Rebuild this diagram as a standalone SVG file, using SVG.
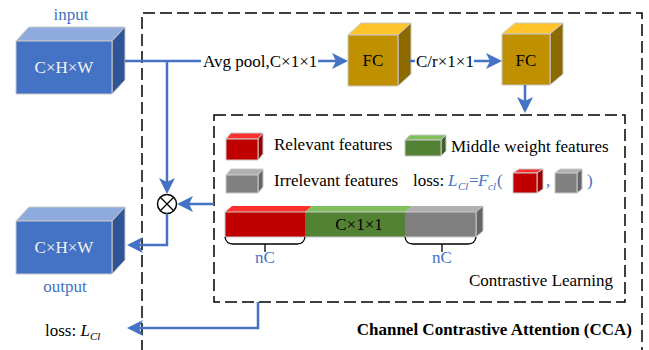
<svg xmlns="http://www.w3.org/2000/svg" width="649" height="350" viewBox="0 0 649 350">
<style>
text{font-family:"Liberation Serif","Times New Roman",serif;font-size:17px;fill:#000}
.w{fill:#F2F2F2}
.b{fill:#4472C4}
.it{font-style:italic}
.bold{font-weight:bold}
.dash{fill:none;stroke:#000;stroke-width:1.5;stroke-dasharray:12 5}
.con{fill:none;stroke:#4472C4;stroke-width:2.5}
.arr{marker-end:url(#ah)}
.edge{stroke:#C8C8C8;stroke-width:1;stroke-linejoin:round}
.bf{fill:#4472C4}.bt{fill:#8FAADC}.bs{fill:#2F5597}
.yf{fill:#BF9000}.yt{fill:#FFC52A}.ys{fill:#8C6A00}
.rf{fill:#C00000}.rt{fill:#FF3030}.rs{fill:#9A0000}
.gf{fill:#548235}.gt{fill:#82C05E}.gs{fill:#3E6127}
.kf{fill:#808080}.kt{fill:#B0B0B0}.ks{fill:#666666}
.brace{fill:none;stroke:#000;stroke-width:1.3}
</style>
<defs>
<marker id="ah" markerUnits="userSpaceOnUse" markerWidth="18" markerHeight="18" refX="13" refY="8" orient="auto" viewBox="0 0 18 18">
<path d="M0,0 L16,8 L0,16 L4,8 z" fill="#4472C4"/>
</marker>
</defs>

<!-- frames -->
<g id="outer-frame">
<path class="dash" d="M142,352 V13 H642 V352"/>
<text x="632" y="335" text-anchor="end" class="bold">Channel Contrastive Attention (CCA)</text>
</g>
<g id="inner-frame">
<rect class="dash" x="214" y="115" width="411" height="187"/>
<text x="613" y="286" text-anchor="end">Contrastive Learning</text>
</g>

<!-- input -->
<g id="input">
<polygon class="bt edge" points="16,41 29,27 125,27 112,41"/>
<polygon class="bs edge" points="112,41 125,27 125,80 112,94"/>
<rect class="bf edge" x="16" y="41" width="96" height="53"/>
<text x="64" y="73" text-anchor="middle" class="w">C×H×W</text>
<text x="71" y="20" text-anchor="middle" class="b">input</text>
</g>

<!-- output -->
<g id="output">
<polygon class="bt edge" points="16,221 29,207 125,207 112,221"/>
<polygon class="bs edge" points="112,221 125,207 125,260 112,274"/>
<rect class="bf edge" x="16" y="221" width="96" height="53"/>
<text x="64" y="253" text-anchor="middle" class="w">C×H×W</text>
<text x="65" y="292" text-anchor="middle" class="b">output</text>
</g>

<!-- FC1 -->
<g id="fc1">
<polygon class="yt edge" points="348,35 361,23 411,23 398,35"/>
<polygon class="ys edge" points="398,35 411,23 411,74 398,86"/>
<rect class="yf edge" x="348" y="35" width="50" height="51"/>
<text x="373" y="66" text-anchor="middle">FC</text>
</g>

<!-- FC2 -->
<g id="fc2">
<polygon class="yt edge" points="502,34 515,23 563,23 550,34"/>
<polygon class="ys edge" points="550,34 563,23 563,74 550,85"/>
<rect class="yf edge" x="502" y="34" width="48" height="51"/>
<text x="526" y="66" text-anchor="middle">FC</text>
</g>

<!-- multiply -->
<g id="multiply">
<circle cx="167" cy="204" r="9.5" fill="#fff" stroke="#000" stroke-width="1.5"/>
<path d="M160.3,197.3 L173.7,210.7 M173.7,197.3 L160.3,210.7" stroke="#000" stroke-width="1.3"/>
</g>

<!-- legend -->
<g id="legend-relevant">
<polygon class="rt edge" points="226,139 231,133 263,133 258,139"/>
<polygon class="rs edge" points="258,139 263,133 263,154 258,160"/>
<rect class="rf edge" x="226" y="139" width="32" height="21"/>
<text x="274" y="150">Relevant features</text>
</g>
<g id="legend-middle">
<polygon class="gt edge" points="405,140 410,135 446,135 441,140"/>
<polygon class="gs edge" points="441,140 446,135 446,151 441,156"/>
<rect class="gf edge" x="405" y="140" width="36" height="16"/>
<text x="451" y="152">Middle weight features</text>
</g>
<g id="legend-irrelevant">
<polygon class="kt edge" points="226,175 231,169 263,169 258,175"/>
<polygon class="ks edge" points="258,175 263,169 263,187 258,193"/>
<rect class="kf edge" x="226" y="175" width="32" height="18"/>
<text x="274" y="186">Irrelevant features</text>
</g>
<g id="loss-formula">
<text x="413" y="186">loss:</text>
<text y="186" class="b it"><tspan x="448">L</tspan><tspan x="458" dy="4" font-size="11">Cl</tspan><tspan x="468" dy="-4">=</tspan><tspan x="478">F</tspan><tspan x="488" dy="4" font-size="11">cl</tspan><tspan x="497" dy="-4" font-style="normal">(</tspan></text>
<polygon class="rt edge" points="513,173 519,169 543,169 537,173"/>
<polygon class="rs edge" points="537,173 543,169 543,189 537,193"/>
<rect class="rf edge" x="513" y="173" width="24" height="20"/>
<text x="546" y="186" class="b">,</text>
<polygon class="kt edge" points="555,173 560,169 582,169 577,173"/>
<polygon class="ks edge" points="577,173 582,169 582,189 577,193"/>
<rect class="kf edge" x="555" y="173" width="22" height="20"/>
<text x="587" y="186" class="b">)</text>
</g>

<!-- feature bar -->
<g id="feature-bar">
<polygon class="rt" points="225,212 232,206 312,206 305,212"/>
<polygon class="gt" points="305,212 312,206 412,206 405,212"/>
<polygon class="kt" points="405,212 412,206 483,206 476,212"/>
<polygon class="ks edge" points="476,212 483,206 483,231 476,237"/>
<rect class="rf" x="225" y="212" width="80" height="25"/>
<rect class="gf" x="305" y="212" width="100" height="25"/>
<rect class="kf" x="405" y="212" width="71" height="25"/>
<rect x="225" y="212" width="251" height="25" fill="none" stroke="#C8C8C8" stroke-width="1"/>
<text x="359" y="230" text-anchor="middle">C×1×1</text>
<path class="brace" d="M225,237 Q226,244 233,244 L297,244 Q304,244 305,237 M265,244 V252"/>
<text x="265" y="263" text-anchor="middle" class="b">nC</text>
<path class="brace" d="M405,237 Q406,244 413,244 L468,244 Q475,244 476,237 M442,244 V252"/>
<text x="442" y="263" text-anchor="middle" class="b">nC</text>
</g>

<!-- loss label -->
<g id="loss-out">
<text x="45" y="336">loss: <tspan class="it">L</tspan><tspan class="it" font-size="11" dy="4">Cl</tspan></text>
</g>

<!-- connectors -->
<g id="connectors">
<path class="con" d="M125,61 H201"/>
<text x="203" y="67">Avg pool,C×1×1</text>
<path class="con arr" d="M318,61 H345"/>
<path class="con" d="M410,61 H415"/>
<text x="416" y="67">C/r×1×1</text>
<path class="con arr" d="M474,61 H499"/>
<path class="con arr" d="M525,85 V110"/>
<path class="con arr" d="M167,61 V191"/>
<path class="con arr" d="M214,204 H180"/>
<path class="con arr" d="M167,213.5 V245 H130"/>
<path class="con arr" d="M258,302 V328 H130"/>
</g>
</svg>
